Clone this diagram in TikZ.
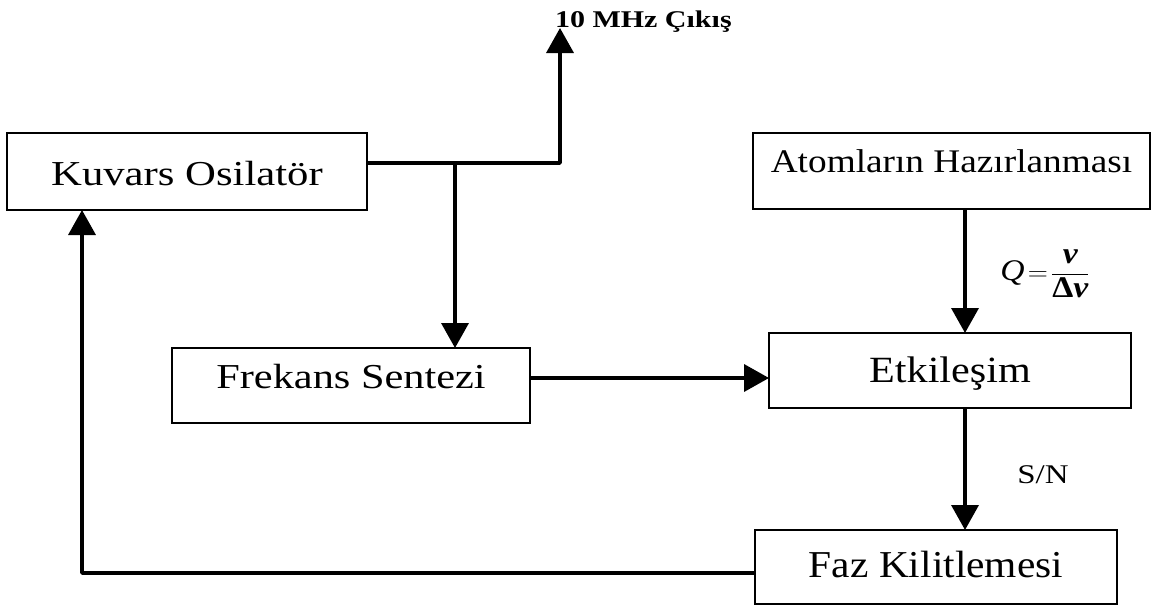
\documentclass[tikz,border=0pt]{standalone}
\usepackage{graphicx}
\usepackage{amsmath}
\usepackage{fontspec}
\setmainfont{Liberation Serif}
\usetikzlibrary{arrows.meta}
\begin{document}
\begin{tikzpicture}[x=1pt,y=-1pt,
  box/.style={draw, line width=1.8pt, inner sep=0pt, outer sep=0pt, align=center, text depth=0pt},
  conn/.style={line width=3.6pt, line join=round},
  arr/.style={conn, -{Triangle[width=27pt,length=25pt]}},
  lbl/.style={inner sep=0pt, outer sep=0pt}]
\useasboundingbox (0,0) rectangle (1155,608);
% boxes
\node[box, minimum width=360pt, minimum height=77pt, text height=27pt] (K) at (187,171.5)
  {\fontsize{35}{40}\selectfont\scalebox{1.22}[1]{Kuvars Osilatör}};
\node[box, minimum width=397pt, minimum height=76pt, text height=2pt] (A) at (951.5,171)
  {\fontsize{33}{38}\selectfont\scalebox{1.13}[1]{Atomların Hazırlanması}};
\node[box, minimum width=358pt, minimum height=75pt, text height=5pt] (F) at (351,385.5)
  {\fontsize{35}{40}\selectfont\scalebox{1.21}[1]{Frekans Sentezi}};
\node[box, minimum width=362pt, minimum height=75pt, text height=23pt] (E) at (950,370.5)
  {\fontsize{37}{42}\selectfont\scalebox{1.14}[1]{Etkileşim}};
\node[box, minimum width=362pt, minimum height=74pt, text height=20pt] (P) at (936,567)
  {\fontsize{38}{42}\selectfont\scalebox{1.09}[1]{Faz Kilitlemesi}};
% helper coordinates
\coordinate (j) at (455,163);
\coordinate (out) at (560,28);
\coordinate (ax) at (965,270);
\coordinate (fy) at (600,378);
\coordinate (fb) at (82,573);
% connectors
\draw[conn] (K.east |- j) -- (j);
\draw[arr] (j) -- (out |- j) -- (out);
\draw[arr] (j) -- (j |- F.north);
\draw[arr] (A.south -| ax) -- (E.north -| ax);
\draw[arr] (F.east |- fy) -- (E.west |- fy);
\draw[arr] (E.south -| ax) -- (P.north -| ax);
\draw[arr] (P.west |- fb) -- (fb) -- (K.south -| fb);
% labels
\node[lbl, anchor=base west] (mhz) at (555,27)
  {\fontsize{24}{28}\selectfont\bfseries\scalebox{1.25}[1]{10 MHz Çıkış}};
\node[lbl] (Q) at (1045,274)
  {\fontsize{30}{34}\selectfont\scalebox{1.12}[1]{$\displaystyle \textit{Q}\!=\!\frac{\text{\bfseries\itshape ν}}{\text{\bfseries Δ\itshape ν}}$}};
\node[lbl, anchor=base] (SN) at (1043,483)
  {\fontsize{27}{32}\selectfont\scalebox{1.22}[1]{S/N}};
\end{tikzpicture}
\end{document}
